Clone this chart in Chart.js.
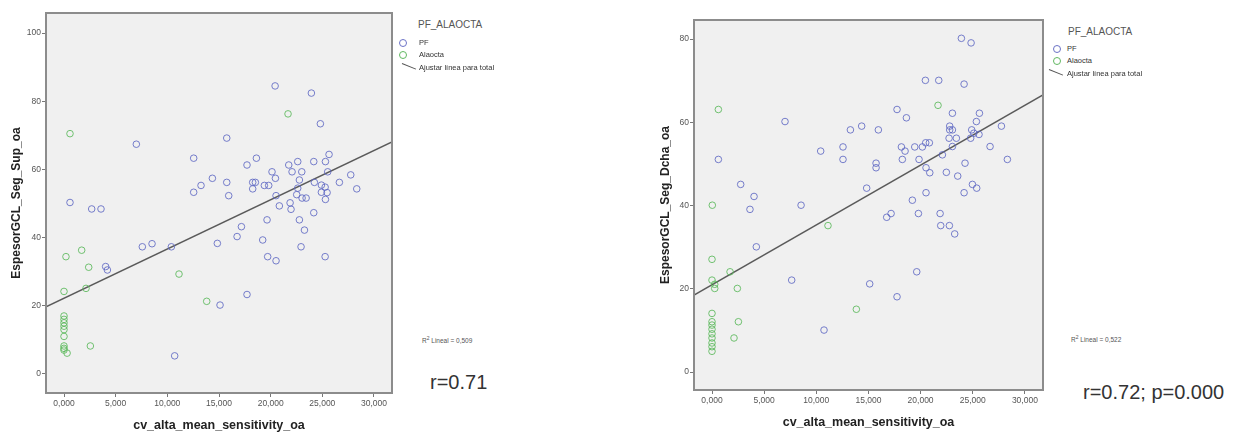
<!DOCTYPE html>
<html>
<head>
<meta charset="utf-8">
<script src="https://cdn.jsdelivr.net/npm/chart.js@4.4.1/dist/chart.umd.min.js"></script>
<style>
  body { margin: 0; background: #fff; width: 1239px; height: 434px; overflow: hidden; font-family: "Liberation Sans", Arial, sans-serif; }
  canvas { position: absolute; top: 0; }
  .txt { position: absolute; color: #444; white-space: nowrap; line-height: 1; }
  .legend-title { font-size: 10px; color: #555; }
  .legend-item { font-size: 7.5px; color: #333; }
  .dot { position: absolute; width: 6px; height: 6px; border-radius: 50%; border: 1px solid; }
  .fitmark { position: absolute; width: 15px; height: 0; border-top: 1px solid #555; transform: rotate(22deg); transform-origin: left center; }
  .r2 { font-size: 6.5px; color: #555; }
  .rval { font-size: 20px; color: #333; }
</style>
</head>
<body>
<canvas id="leftChart" width="400" height="434" style="left:0px"></canvas>
<canvas id="rightChart" width="400" height="434" style="left:650px"></canvas>

<!-- left legend -->
<div class="txt legend-title" style="left:418px; top:20px">PF_ALAOCTA</div>
<div class="dot" style="left:399px; top:39px; border-color:#6b72c6"></div>
<div class="txt legend-item" style="left:419px; top:39px">PF</div>
<div class="dot" style="left:399px; top:51px; border-color:#62b862"></div>
<div class="txt legend-item" style="left:419px; top:51px">Alaocta</div>
<div class="fitmark" style="left:402px; top:63px"></div>
<div class="txt legend-item" style="left:419px; top:64px">Ajustar línea para total</div>
<div class="txt r2" style="left:422px; top:336px">R<sup style="font-size:5px">2</sup> Lineal = 0,509</div>
<div class="txt rval" style="left:430px; top:372px">r=0.71</div>

<!-- right legend -->
<div class="txt legend-title" style="left:1068px; top:27px">PF_ALAOCTA</div>
<div class="dot" style="left:1053px; top:45px; border-color:#6b72c6"></div>
<div class="txt legend-item" style="left:1067px; top:45px">PF</div>
<div class="dot" style="left:1053px; top:57px; border-color:#62b862"></div>
<div class="txt legend-item" style="left:1067px; top:57px">Alaocta</div>
<div class="fitmark" style="left:1049px; top:69px"></div>
<div class="txt legend-item" style="left:1067px; top:70px">Ajustar línea para total</div>
<div class="txt r2" style="left:1071px; top:335px">R<sup style="font-size:5px">2</sup> Lineal = 0,522</div>
<div class="txt rval" style="left:1083px; top:382px">r=0.72; p=0.000</div>

<script>
// ::::: DATA :::::
// x = cv_alta_mean_sensitivity_oa, y = EspesorGCL

// Left plot: EspesorGCL_Seg_Sup_oa
const leftPfX = [20.43, 23.94, 24.81, 7.00, 15.75, 12.55, 18.62, 17.71, 25.65, 25.30, 24.17, 22.62, 21.75, 20.13, 22.07, 23.01, 25.52, 20.46, 22.78, 27.75, 26.65, 28.33, 14.36, 13.26, 12.55, 15.75, 15.94, 18.26, 18.52, 18.26, 19.39, 19.81, 22.62, 24.23, 24.91, 25.27, 24.91, 25.46, 25.30, 20.52, 20.84, 21.88, 21.97, 22.52, 23.04, 23.43, 24.17, 2.68, 3.58, 0.58, 19.65, 22.78, 17.17, 16.75, 23.27, 19.23, 22.94, 14.84, 19.71, 20.52, 25.27, 7.58, 8.52, 10.39, 4.03, 4.20, 17.71, 15.10, 10.71];
const leftPfY = [84.5, 82.4, 73.4, 67.4, 69.2, 63.3, 63.3, 61.3, 64.4, 62.3, 62.3, 62.3, 61.3, 59.3, 59.3, 59.3, 59.3, 57.4, 56.9, 58.4, 56.2, 54.3, 57.4, 55.3, 53.3, 56.2, 52.3, 56.2, 56.2, 54.3, 55.3, 55.3, 54.5, 56.2, 55.4, 54.8, 53.3, 53.2, 51.2, 52.3, 49.3, 50.2, 48.3, 52.6, 51.6, 51.6, 47.3, 48.4, 48.4, 50.3, 45.2, 45.2, 43.2, 40.3, 42.2, 39.3, 37.3, 38.3, 34.4, 33.2, 34.4, 37.3, 38.2, 37.3, 31.5, 30.5, 23.3, 20.2, 5.3];
const leftAlX = [0.58, 21.68, 0.19, 1.71, 2.39, 0.00, 11.13, 13.81, 2.13, 0.00, 0.00, 0.00, 0.00, 0.00, 0.00, 0.00, 0.00, 0.00, 0.30, 2.55];
const leftAlY = [70.5, 76.3, 34.4, 36.3, 31.3, 24.2, 29.3, 21.3, 25.1, 17.0, 16.0, 15.0, 14.0, 13.0, 11.0, 8.2, 7.5, 7.0, 6.1, 8.2];
const leftFit = [22.2, 1.446];          // intercept, slope
const leftXRange = [-1.742, 31.742];
const leftYRange = [-5.6, 105.9];
const leftYTicks = [0, 20, 40, 60, 80, 100];

// Right plot: EspesorGCL_Seg_Dcha_oa
const rightPfX = [23.91, 24.84, 20.46, 21.74, 24.17, 17.74, 18.64, 23.05, 25.64, 25.35, 7.00, 22.79, 22.79, 23.05, 27.75, 13.27, 14.35, 15.95, 24.90, 25.10, 25.60, 24.80, 22.73, 23.43, 10.42, 12.56, 12.56, 18.16, 18.51, 19.44, 20.17, 20.49, 20.84, 18.25, 19.85, 22.09, 23.05, 26.66, 28.32, 0.61, 15.73, 15.73, 20.52, 20.88, 22.47, 23.56, 24.26, 24.97, 25.38, 24.17, 20.52, 2.75, 4.03, 14.83, 19.21, 3.64, 8.54, 16.75, 17.17, 19.79, 21.87, 21.93, 22.76, 23.27, 4.25, 19.63, 7.64, 15.12, 17.74, 10.74];
const rightPfY = [80.2, 79.1, 70.1, 70.1, 69.2, 63.1, 61.1, 62.2, 62.2, 60.2, 60.2, 59.1, 58.2, 58.2, 59.1, 58.2, 59.1, 58.2, 58.2, 57.4, 57.1, 56.2, 56.2, 56.2, 53.1, 54.1, 51.1, 54.1, 53.1, 54.1, 54.1, 55.1, 55.1, 51.1, 51.1, 52.2, 54.2, 54.2, 51.1, 51.1, 50.2, 49.1, 49.1, 47.9, 48.0, 47.1, 50.2, 45.1, 44.2, 43.1, 43.1, 45.1, 42.2, 44.2, 41.3, 39.1, 40.1, 37.2, 38.1, 38.1, 38.1, 35.2, 35.2, 33.2, 30.1, 24.1, 22.1, 21.2, 18.1, 10.1];
const rightAlX = [0.61, 21.67, 0.03, 11.12, 0.00, 1.73, 0.00, 0.26, 0.26, 2.43, 13.84, 0.00, 2.53, 0.00, 0.00, 0.00, 0.00, 0.00, 0.00, 0.00, 0.00, 2.11];
const rightAlY = [63.1, 64.1, 40.1, 35.2, 27.1, 24.1, 22.1, 21.1, 20.1, 20.1, 15.1, 14.1, 12.1, 12.1, 11.3, 10.3, 9.2, 8.2, 7.0, 6.1, 5.0, 8.2];
const rightFit = [21.0, 1.437];
const rightXRange = [-1.726, 31.736];
const rightYRange = [-4.3, 84.6];
const rightYTicks = [0, 20, 40, 60, 80];

const xTicks = [0, 5, 10, 15, 20, 25, 30];

// ::::: STYLE :::::
const pfColor = "rgba(95, 105, 195, 0.85)";
const alColor = "rgba(90, 185, 90, 0.85)";
const fitColor = "#5a5a5a";

// Grey plot background and frame, like SPSS output
const plotFrame = {
    id: "plotFrame",
    beforeDraw(chart) {
        const a = chart.chartArea;
        const ctx = chart.ctx;
        ctx.save();
        ctx.fillStyle = "#f0f0f0";
        ctx.fillRect(a.left, a.top, a.right - a.left, a.bottom - a.top);
        ctx.restore();
    },
    afterDraw(chart) {
        const a = chart.ctx, c = chart.chartArea;
        a.save();
        a.strokeStyle = "#8c8c8c";
        a.lineWidth = 2;
        a.strokeRect(c.left, c.top, c.right - c.left, c.bottom - c.top);
        a.restore();
    }
};

function toPoints(xs, ys) {
    return xs.map((x, i) => ({ x: x, y: ys[i] }));
}

function fitLine(fit, range) {
    return range.map(x => ({ x: x, y: fit[0] + fit[1] * x }));
}

function createPlot(canvasId, p) {
    const canvas = document.getElementById(canvasId);
    return new Chart(canvas, {
        type: "scatter",
        data: {
            datasets: [
                {
                    label: "PF",
                    data: toPoints(p.pfX, p.pfY),
                    backgroundColor: "rgba(0,0,0,0)",
                    borderColor: pfColor,
                    borderWidth: 1,
                    pointRadius: 3.3
                },
                {
                    label: "Alaocta",
                    data: toPoints(p.alX, p.alY),
                    backgroundColor: "rgba(0,0,0,0)",
                    borderColor: alColor,
                    borderWidth: 1,
                    pointRadius: 3.3
                },
                {
                    type: "line",
                    label: "Ajustar línea para total",
                    data: fitLine(p.fit, p.xRange),
                    borderColor: fitColor,
                    borderWidth: 1.5,
                    pointRadius: 0,
                    fill: false
                }
            ]
        },
        options: {
            responsive: false,
            animation: false,
            layout: { padding: { top: p.top, right: p.right, left: 0, bottom: 0 } },
            scales: {
                x: {
                    type: "linear",
                    min: p.xRange[0],
                    max: p.xRange[1],
                    afterBuildTicks: axis => { axis.ticks = xTicks.map(v => ({ value: v })); },
                    afterFit: axis => { axis.height = p.xAxisHeight; },
                    ticks: {
                        color: "#555",
                        font: { family: "Liberation Sans", size: 8.5 },
                        padding: 2,
                        maxRotation: 0,
                        callback: v => v.toFixed(3).replace(".", ",")
                    },
                    grid: { drawOnChartArea: false, drawTicks: true, tickLength: 4, color: "#777" },
                    border: { display: false },
                    title: {
                        display: true,
                        text: "cv_alta_mean_sensitivity_oa",
                        color: "#222",
                        font: { family: "Liberation Sans", size: 12.5, weight: "bold" },
                        padding: { top: 0, bottom: p.xTitlePad }
                    }
                },
                y: {
                    type: "linear",
                    min: p.yRange[0],
                    max: p.yRange[1],
                    afterBuildTicks: axis => { axis.ticks = p.yTicks.map(v => ({ value: v })); },
                    afterFit: axis => { axis.width = p.yAxisWidth; },
                    ticks: {
                        color: "#555",
                        font: { family: "Liberation Sans", size: 8.5 },
                        padding: 1
                    },
                    grid: { drawOnChartArea: false, drawTicks: true, tickLength: 4, color: "#777" },
                    border: { display: false },
                    title: {
                        display: true,
                        text: p.yTitle,
                        color: "#222",
                        font: { family: "Liberation Sans", size: 12, weight: "bold" },
                        padding: { top: p.yTitlePad, bottom: 0 }
                    }
                }
            },
            plugins: {
                legend: { display: false },
                tooltip: { enabled: false }
            }
        },
        plugins: [plotFrame]
    });
}

createPlot("leftChart", {
    pfX: leftPfX, pfY: leftPfY, alX: leftAlX, alY: leftAlY,
    fit: leftFit, xRange: leftXRange, yRange: leftYRange, yTicks: leftYTicks,
    yTitle: "EspesorGCL_Seg_Sup_oa",
    top: 13, right: 8, yAxisWidth: 46, xAxisHeight: 41, xTitlePad: 1, yTitlePad: 9
});

createPlot("rightChart", {
    pfX: rightPfX, pfY: rightPfY, alX: rightAlX, alY: rightAlY,
    fit: rightFit, xRange: rightXRange, yRange: rightYRange, yTicks: rightYTicks,
    yTitle: "EspesorGCL_Seg_Dcha_oa",
    top: 20, right: 7, yAxisWidth: 44, xAxisHeight: 44, xTitlePad: 4, yTitlePad: 8
});
</script>
</body>
</html>
